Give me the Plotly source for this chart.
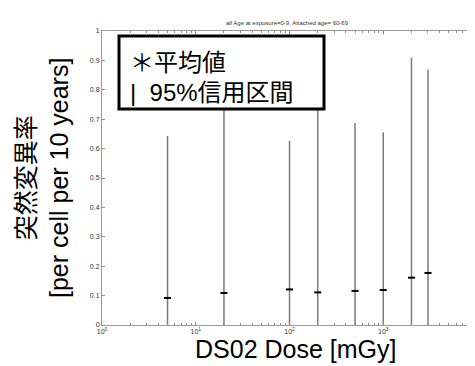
import plotly.graph_objects as go

# Data
doses = [5, 20, 100, 200, 500, 1000, 2000, 3000]              # mGy
means = [0.092, 0.109, 0.121, 0.111, 0.116, 0.119, 0.161, 0.177]
upper = [0.643, 0.78, 0.626, 0.75, 0.687, 0.656, 0.910, 0.868]
lower = [0.0, 0.0, 0.0, 0.0, 0.0, 0.0, 0.0, 0.0]

x_tickvals = [1, 10, 100, 1000, 10000]
x_ticktext = ["10<sup>0</sup>", "10<sup>1</sup>", "10<sup>2</sup>", "10<sup>3</sup>", "10<sup>4</sup>"]

title_text = "all Age at exposure=0-9, Attached age= 60-69"
legend_mean = "＊平均値"
legend_ci = "|  95%信用区間"
y_title = "突然変異率<br>[per cell per 10 years]"
x_title = "DS02 Dose [mGy]"

FONT = "Liberation Sans, Arial, Noto Sans CJK JP, sans-serif"

fig = go.Figure()
fig.add_trace(go.Scatter(
    x=doses, y=means, mode="markers",
    marker=dict(symbol="line-ew-open", size=5, color="black",
                line=dict(width=2, color="black")),
    error_y=dict(type="data", symmetric=False,
                 array=[u - m for u, m in zip(upper, means)],
                 arrayminus=[m - l for m, l in zip(means, lower)],
                 width=0, thickness=1.5, color="#7a7a7a"),
    showlegend=False,
))

W, H = 475, 366
L, R, T, B = 94, 6, 23, 49
pw, ph = W - L - R, H - T - B

def px(xp):
    return (xp - L) / pw

def py(yp):
    return (H - B - yp) / ph

axis_common = dict(showline=True, linecolor="#9a9a9a", linewidth=1, mirror="ticks",
                   ticks="inside", ticklen=3, tickcolor="#8a8a8a", showgrid=False,
                   zeroline=False, tickfont=dict(size=7, color="#333333", family=FONT))

fig.update_layout(
    width=W, height=H, margin=dict(l=L, r=R, t=T, b=B, autoexpand=False),
    paper_bgcolor="white", plot_bgcolor="white",
    font=dict(family=FONT),
    title=dict(text=title_text, x=279 / W, xref="container", xanchor="center",
               y=1 - 15 / H, yref="container", yanchor="middle",
               font=dict(size=6, color="#333333", family=FONT)),
    xaxis=dict(type="log", range=[0, 4], tickmode="array", tickvals=x_tickvals,
               ticktext=x_ticktext,
               minor=dict(ticks="inside", ticklen=2, tickcolor="#8a8a8a", dtick="D1", showgrid=False),
               **axis_common),
    yaxis=dict(range=[0, 1], dtick=0.1, **axis_common),
    shapes=[dict(type="rect", xref="paper", yref="paper",
                 x0=px(111), x1=px(316), y0=py(101), y1=py(28),
                 line=dict(color="black", width=3), fillcolor="white", layer="above")],
    annotations=[
        dict(text=legend_mean, xref="paper", yref="paper", x=px(120), y=py(52),
             xanchor="left", yanchor="middle", showarrow=False,
             font=dict(size=24, color="black", family="Noto Sans CJK JP, " + FONT)),
        dict(text=legend_ci, xref="paper", yref="paper", x=px(120), y=py(84),
             xanchor="left", yanchor="middle", showarrow=False,
             font=dict(size=24, color="black", family=FONT)),
        dict(text=y_title, xref="paper", yref="paper", x=px(34), y=py(170),
             xanchor="center", yanchor="middle", textangle=-90, showarrow=False,
             font=dict(size=25, color="black", family=FONT)),
        dict(text=x_title, xref="paper", yref="paper", x=px(287), y=py(341),
             xanchor="center", yanchor="middle", showarrow=False,
             font=dict(size=25, color="black", family=FONT)),
    ],
)

fig.write_html("out.html")
